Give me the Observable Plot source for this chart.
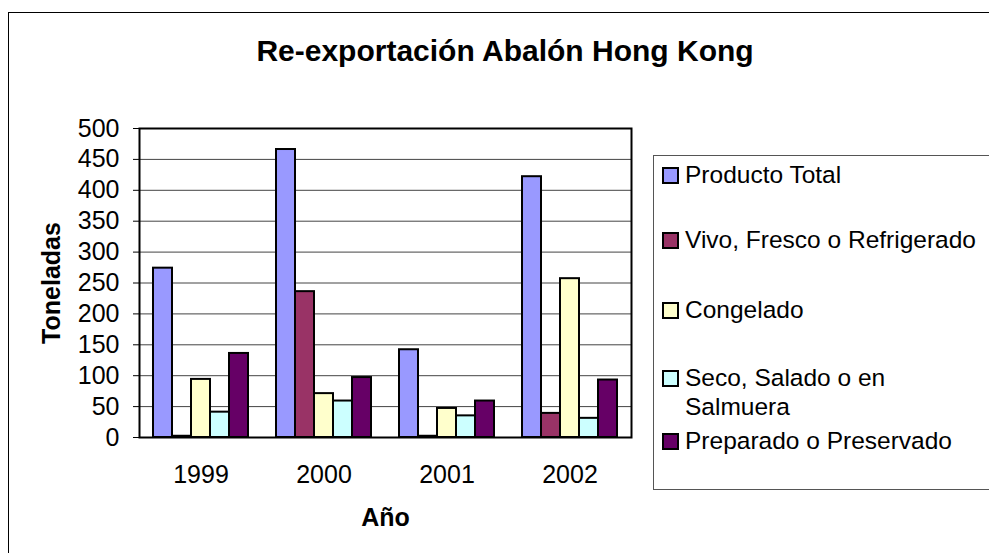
<!DOCTYPE html>
<html>
<head>
<meta charset="utf-8">
<script src="https://cdn.jsdelivr.net/npm/d3@7"></script>
<script src="https://cdn.jsdelivr.net/npm/@observablehq/plot@0.6"></script>
<style>
  html, body { margin: 0; padding: 0; background: #fff; }
  body { width: 989px; height: 553px; overflow: hidden; position: relative; font-family: "Liberation Sans", Arial, sans-serif; }
  #chart { position: absolute; left: 0; top: 0; }
  #outer { position: absolute; left: 8px; top: 12px; width: 1100px; height: 700px; border: 1px solid #000; pointer-events: none; z-index: 5; }
  #title { position: absolute; left: 0; top: 36px; width: 1010px; text-align: center; font-weight: bold; font-size: 30px; line-height: 30px; color: #000; }
  #legend { position: absolute; left: 653px; top: 155px; width: 500px; height: 333px; border: 1px solid #555; background: #fff; }
  .item { position: absolute; left: 8px; display: flex; align-items: flex-start; font-size: 24.5px; line-height: 29px; color: #000; }
  .sw { width: 13px; height: 13px; border: 2px solid #000; margin-top: 7px; margin-right: 6px; flex: none; }
  .lbl { max-width: 300px; }
  g[aria-label="y-axis label"] text, g[aria-label="fx-axis label"] text { font-weight: bold; }
</style>
</head>
<body>
<div id="chart"></div>
<div id="title"></div>
<div id="legend"></div>
<div id="outer"></div>
<script>
const title = "Re-exportación Abalón Hong Kong";
const years = ["1999", "2000", "2001", "2002"];
const series = ["Producto Total", "Vivo, Fresco o Refrigerado", "Congelado", "Seco, Salado o en Salmuera", "Preparado o Preservado"];
const colors = ["#9999FF", "#993366", "#FFFFCC", "#CCFFFF", "#660066"];
const productoTotal = [274, 466, 142, 422];
const vivoFresco = [2, 236, 2, 39];
const congelado = [94, 71, 47, 257];
const secoSalado = [41, 59, 35, 31];
const preparado = [136, 97, 59, 93];
const yTicks = [0, 50, 100, 150, 200, 250, 300, 350, 400, 450, 500];
const yLabel = "Toneladas";
const xLabel = "Año";

const seriesValues = [productoTotal, vivoFresco, congelado, secoSalado, preparado];
const data = years.flatMap((yr, i) => series.map((s, j) => ({year: yr, serie: s, value: seriesValues[j][i]})));

const chart = Plot.plot({
  width: 989,
  height: 553,
  marginLeft: 138,
  marginRight: 357,
  marginTop: 128,
  marginBottom: 116,
  style: {fontFamily: "'Liberation Sans', Arial, sans-serif", fontSize: "25px", background: "transparent", color: "#000", overflow: "visible"},
  fx: {domain: years, padding: 0},
  x: {domain: series, paddingInner: 0, paddingOuter: 0.7, axis: null},
  y: {domain: [0, 500], ticks: yTicks},
  color: {domain: series, range: colors},
  marks: [
    Plot.ruleY(yTicks, {stroke: "#444", strokeWidth: 1}),
    Plot.barY(data, {fx: "year", x: "serie", y: "value", fill: "serie", stroke: "#000", strokeWidth: 2}),
    Plot.frame({stroke: "#000", strokeWidth: 2, facet: "super"}),
    Plot.axisY({ticks: yTicks, tickSize: 6, tickPadding: 14, label: yLabel, labelAnchor: "center", labelOffset: 97, labelArrow: "none"}),
    Plot.axisFx({anchor: "bottom", tickSize: 0, tickPadding: 28, label: xLabel, labelAnchor: "center", labelOffset: 88})
  ]
});
document.getElementById("chart").appendChild(chart);
document.getElementById("title").textContent = title;

const legendTops = [4, 69, 139, 207, 270];
const legend = document.getElementById("legend");
series.forEach((s, i) => {
  const it = document.createElement("div");
  it.className = "item";
  it.style.top = legendTops[i] + "px";
  const sw = document.createElement("div");
  sw.className = "sw";
  sw.style.background = colors[i];
  const lb = document.createElement("div");
  lb.className = "lbl";
  lb.textContent = s;
  it.appendChild(sw);
  it.appendChild(lb);
  legend.appendChild(it);
});
</script>
</body>
</html>
